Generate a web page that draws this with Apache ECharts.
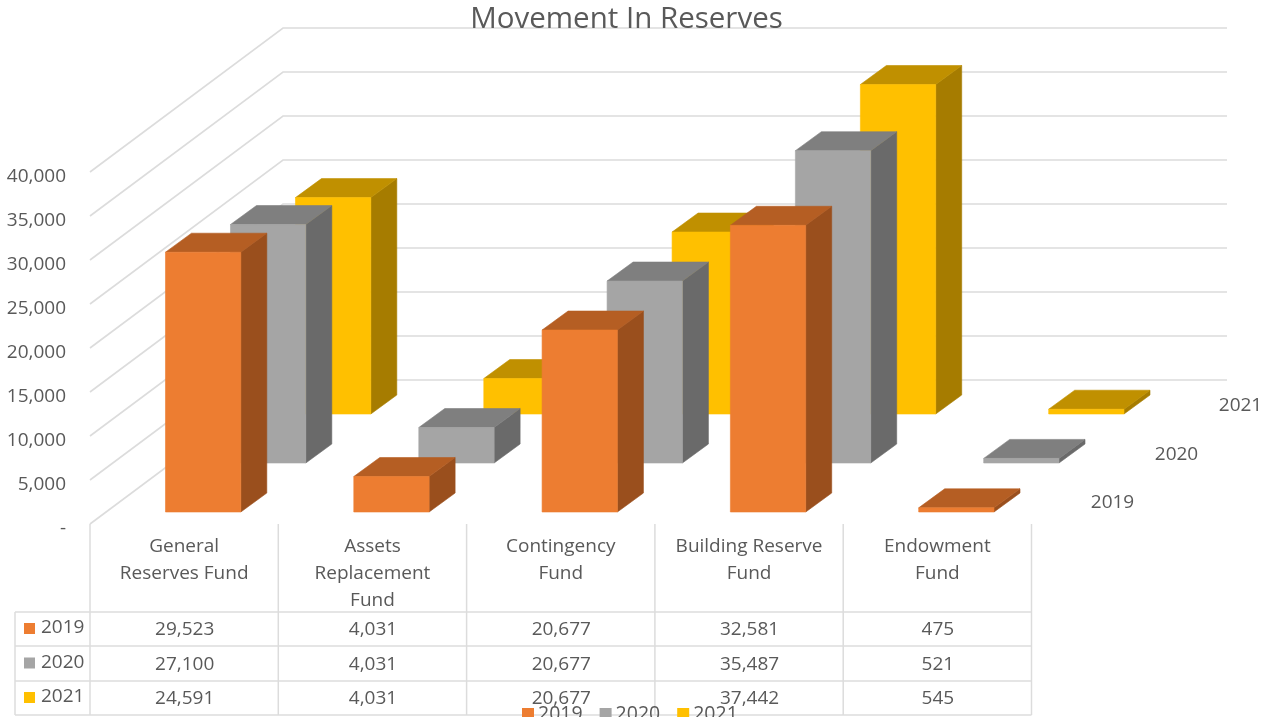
<!DOCTYPE html>
<html>
<head>
<meta charset="utf-8">
<style>html,body{margin:0;padding:0;background:#fff;overflow:hidden}#c{width:1265px;height:717px}</style>
<script src="https://cdn.jsdelivr.net/npm/echarts@6/dist/echarts.min.js"></script>
</head>
<body>
<div id="c"></div>
<script>
const categories = ['General\nReserves Fund', 'Assets\nReplacement\nFund', 'Contingency\nFund', 'Building Reserve\nFund', 'Endowment\nFund'];
const years = ['2019', '2020', '2021'];
const values2019 = [29523, 4031, 20677, 32581, 475];
const values2020 = [27100, 4031, 20677, 35487, 521];
const values2021 = [24591, 4031, 20677, 37442, 545];
const yTicks = [0, 5000, 10000, 15000, 20000, 25000, 30000, 35000, 40000];

const seriesValues = [values2019, values2020, values2021];
const faces = [
  { front: '#ED7D31', top: '#B55E23', side: '#9A4F1D' },
  { front: '#A5A5A5', top: '#7F7F7F', side: '#6A6A6A' },
  { front: '#FFC000', top: '#C09000', side: '#A67C00' }
];
const FONT = '"Open Sans", "Noto Sans", sans-serif';
const TEXT = '#595959';
const GRID = '#DCDCDC';
const FS = 19;
const WALL = { dx: 193, dy: -144, len: 944 };
const ROW = { dx: 65, dy: -49, baseDx: 19, baseDy: -12, depthDx: 26, depthDy: -19 };
const TABLE = { left: 15, head: 612, rows: [646, 681, 715] };
const fmt = v => v.toLocaleString('en-US');

function line(x1, y1, x2, y2, w) {
  return { type: 'line', shape: { x1, y1, x2, y2 }, style: { stroke: GRID, lineWidth: w || 1.5, fill: null }, silent: true };
}
function txt(x, y, text, align) {
  return { type: 'text', style: { x, y, text, fill: TEXT, font: FS + 'px ' + FONT, textAlign: align || 'center', textVerticalAlign: 'middle' }, silent: true };
}

function renderFrame(params, api) {
  const r = params.coordSys;
  const kids = [];
  const x0 = r.x;
  yTicks.forEach(t => {
    const y = api.coord([0, t])[1];
    kids.push({ type: 'polyline', shape: { points: [[x0, y], [x0 + WALL.dx, y + WALL.dy], [x0 + WALL.dx + WALL.len, y + WALL.dy]] }, style: { stroke: GRID, lineWidth: 1.6, fill: null }, silent: true });
  });
  // data table rules
  const bottom = r.y + r.height;
  const colW = r.width / categories.length;
  for (let i = 0; i <= categories.length; i++) {
    kids.push(line(x0 + i * colW, bottom, x0 + i * colW, TABLE.rows[2]));
  }
  kids.push(line(TABLE.left, TABLE.head, TABLE.left, TABLE.rows[2]));
  [TABLE.head].concat(TABLE.rows).forEach(y => kids.push(line(TABLE.left, y, x0 + r.width, y)));
  // data table cells
  years.forEach((yr, s) => {
    const top = s === 0 ? TABLE.head : TABLE.rows[s - 1];
    const mid = (top + TABLE.rows[s]) / 2;
    kids.push({ type: 'rect', shape: { x: 24, y: mid - 6, width: 11, height: 11 }, style: { fill: faces[s].front }, silent: true });
    kids.push(txt(41, mid - 1, yr, 'left'));
    seriesValues[s].forEach((v, c) => kids.push(txt(api.coord([c, 0])[0] + 0.5, mid + 1, fmt(v))));
    // depth axis labels
    kids.push(txt(x0 + r.width + 81 + s * 64, bottom - 21 + s * -48.5, yr));
  });
  return { type: 'group', children: kids };
}

function barRenderer(s) {
  return function (params, api) {
    const p = api.coord([api.value(0), api.value(1)]);
    const o = api.coord([api.value(0), 0]);
    const w = api.size([1, 0])[0] * 0.4;
    const dx = ROW.baseDx + s * ROW.dx, dy = ROW.baseDy + s * ROW.dy;
    const l = o[0] + dx - w / 2, R = l + w, b = o[1] + dy, t = p[1] + dy;
    const ddx = ROW.depthDx, ddy = ROW.depthDy;
    const f = faces[s];
    const poly = (points, c) => ({ type: 'polygon', shape: { points }, style: { fill: c, stroke: c, lineWidth: 0.6 } });
    return { type: 'group', children: [
      poly([[R, t], [R + ddx, t + ddy], [R + ddx, b + ddy], [R, b]], f.side),
      poly([[l, t], [l + ddx, t + ddy], [R + ddx, t + ddy], [R, t]], f.top),
      poly([[l, t], [R, t], [R, b], [l, b]], f.front)
    ] };
  };
}

const chart = echarts.init(document.getElementById('c'), null, { renderer: 'canvas' });
const barSeries = years.map((yr, s) => ({
  type: 'custom',
  name: yr,
  z: 4 - s,
  clip: false,
  silent: true,
  itemStyle: { color: faces[s].front },
  encode: { x: 0, y: 1 },
  data: seriesValues[s].map((v, i) => [i, v]),
  renderItem: barRenderer(s)
}));

chart.setOption({
  animation: false,
  backgroundColor: '#fff',
  textStyle: { fontFamily: FONT },
  title: {
    text: 'Movement In Reserves',
    left: 621.5, top: 0,
    textAlign: 'center',
    textStyle: { color: TEXT, fontSize: 29.5, fontWeight: 'normal', fontFamily: FONT }
  },
  legend: {
    data: years,
    left: 522, top: 704,
    icon: 'rect',
    itemWidth: 12, itemHeight: 12, itemGap: 17,
    padding: 0,
    textStyle: { color: TEXT, fontSize: 19.5, fontFamily: FONT, padding: [0, 0, 0, -1] },
    selectedMode: false,
    z: 20
  },
  grid: { left: 90, right: 233.5, top: 172, bottom: 193, containLabel: false },
  xAxis: {
    type: 'category',
    data: categories,
    axisLine: { show: false },
    axisTick: { show: false },
    splitLine: { show: false },
    axisLabel: { interval: 0, margin: 9, lineHeight: 27, color: TEXT, fontSize: FS, fontFamily: FONT, verticalAlign: 'top' }
  },
  yAxis: {
    type: 'value',
    min: 0, max: 40000, interval: 5000,
    axisLine: { show: false },
    axisTick: { show: false },
    splitLine: { show: false },
    axisLabel: { margin: 24, color: TEXT, fontSize: FS, fontFamily: FONT, verticalAlign: 'top', lineHeight: 10, formatter: v => v === 0 ? '-' : fmt(v) }
  },
  series: [{
    type: 'custom',
    name: 'frame',
    z: 1,
    clip: false,
    silent: true,
    encode: { x: 0, y: 1 },
    data: [[0, 0]],
    renderItem: renderFrame
  }].concat(barSeries)
});
</script>
</body>
</html>
